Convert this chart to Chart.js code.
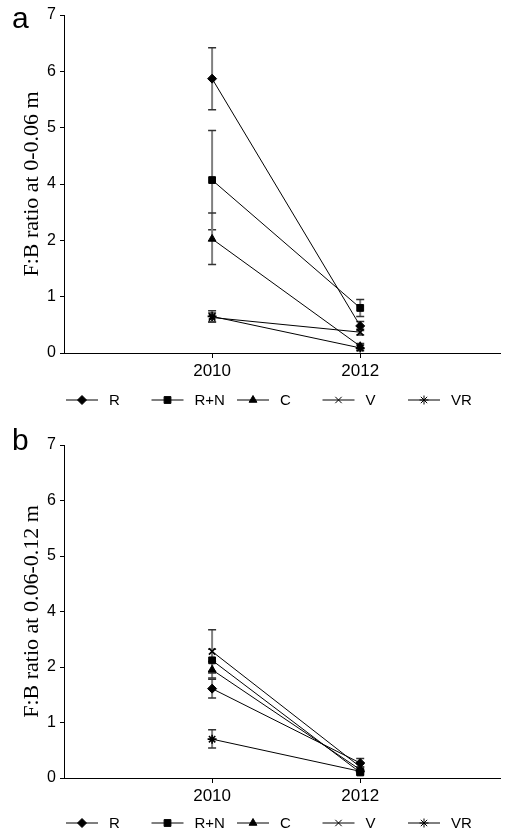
<!DOCTYPE html>
<html>
<head>
<meta charset="utf-8">
<script src="https://cdn.jsdelivr.net/npm/chart.js@4/dist/chart.umd.min.js"></script>
<style>
  html, body { margin: 0; padding: 0; background: #fff; }
  .panel { position: absolute; left: 0; width: 507px; }
  #boxA { top: 0; height: 420px; }
  #boxB { top: 420px; height: 417px; }
</style>
</head>
<body>
<div class="panel" id="boxA"><canvas id="chartA"></canvas></div>
<div class="panel" id="boxB"><canvas id="chartB"></canvas></div>
<script>
// categories and tick labels (the source axis skips "3")
const years = [2010, 2012];
const yTicks = [0, 1, 2, 4, 5, 6, 7];
const seriesNames = ["R", "R+N", "C", "V", "VR"];
const markers = ["rectRot", "rect", "triangle", "crossRot", "star"];

// panel a: F:B ratio at 0-0.06 m (mean, lower and upper end of the error bar)
const aR = [5.87, 0.48],  aR_lo = [5.32, 0.40],  aR_hi = [6.42, 0.56];
const aRN = [4.07, 0.80], aRN_lo = [2.38, 0.65], aRN_hi = [4.95, 0.95];
const aC = [2.05, 0.12],  aC_lo = [1.57, 0.07],  aC_hi = [2.97, 0.17];
const aV = [0.63, 0.37],  aV_lo = [0.55, 0.32],  aV_hi = [0.71, 0.42];
const aVR = [0.65, 0.09], aVR_lo = [0.55, 0.04], aVR_hi = [0.75, 0.14];

// panel b: F:B ratio at 0.06-0.12 m
const bR = [1.61, 0.27],  bR_lo = [1.44, 0.20],  bR_hi = [1.78, 0.35];
const bRN = [2.24, 0.10], bRN_lo = [1.92, 0.06], bRN_hi = [2.64, 0.14];
const bC = [1.95, 0.15],  bC_lo = [1.80, 0.10],  bC_hi = [2.20, 0.20];
const bV = [2.56, 0.20],  bV_lo = [1.89, 0.14],  bV_hi = [3.34, 0.26];
const bVR = [0.70, 0.12], bVR_lo = [0.54, 0.08], bVR_hi = [0.87, 0.16];

// tick labels are evenly spaced, so place values between neighbouring labels
function toAxis(v) {
  for (let i = 1; i < yTicks.length; i++) {
    if (v <= yTicks[i]) return i - 1 + (v - yTicks[i - 1]) / (yTicks[i] - yTicks[i - 1]);
  }
  return yTicks.length - 1;
}

const FONT = "'Liberation Sans', Arial, sans-serif";
const SERIF = "'Liberation Serif', 'Times New Roman', serif";

function buildDatasets(means, los, his) {
  return means.map((m, i) => ({
    label: seriesNames[i],
    data: years.map((yr, j) => ({ x: yr, y: toAxis(m[j]), lo: toAxis(los[i][j]), hi: toAxis(his[i][j]) })),
    borderColor: "#000",
    borderWidth: 1,
    pointStyle: markers[i],
    pointRadius: markers[i] === "rect" ? 4.8 : 4.5,
    pointBackgroundColor: "#000",
    pointBorderColor: "#000",
    pointBorderWidth: markers[i] === "crossRot" || markers[i] === "star" ? 1.6 : 1,
    tension: 0,
  }));
}

const errorBars = {
  id: "errorBars",
  beforeDatasetsDraw(chart) {
    const ctx = chart.ctx;
    const y = chart.scales.y, x = chart.scales.x;
    ctx.save();
    chart.data.datasets.forEach((ds) => {
      ds.data.forEach((p) => {
        const px = x.getPixelForValue(p.x);
        const top = y.getPixelForValue(p.hi), bot = y.getPixelForValue(p.lo);
        ctx.strokeStyle = "#808080";
        ctx.lineWidth = 2;
        ctx.beginPath(); ctx.moveTo(px, top); ctx.lineTo(px, bot); ctx.stroke();
        ctx.strokeStyle = "#333";
        ctx.lineWidth = 1.5;
        ctx.beginPath();
        ctx.moveTo(px - 4, top); ctx.lineTo(px + 4, top);
        ctx.moveTo(px - 4, bot); ctx.lineTo(px + 4, bot);
        ctx.stroke();
      });
    });
    ctx.restore();
  },
};

const decorations = {
  id: "decorations",
  afterDraw(chart, args, opts) {
    const ctx = chart.ctx, area = chart.chartArea;
    ctx.save();
    ctx.fillStyle = "#000";
    // panel letter
    ctx.font = "30px " + FONT;
    ctx.textAlign = "left";
    ctx.textBaseline = "alphabetic";
    ctx.fillText(opts.letter, 12, opts.letterY);
    // y title
    ctx.font = "22px " + SERIF;
    ctx.textAlign = "center";
    ctx.textBaseline = "middle";
    ctx.translate(32, (area.top + area.bottom) / 2);
    ctx.rotate(-Math.PI / 2);
    ctx.fillText(opts.title, 0, 0);
    ctx.setTransform(1, 0, 0, 1, 0, 0);
    // legend: line with marker, then label
    const ly = area.bottom + opts.legendGap;
    const step = 85.5, first = 82;
    chart.data.datasets.forEach((ds, i) => {
      const cx = first + i * step;
      ctx.strokeStyle = "#000";
      ctx.lineWidth = 1;
      ctx.beginPath(); ctx.moveTo(cx - 16, ly); ctx.lineTo(cx + 16, ly); ctx.stroke();
      Chart.helpers.drawPoint(ctx, {
        pointStyle: ds.pointStyle, radius: ds.pointRadius, borderWidth: ds.pointBorderWidth, rotation: 0,
      }, cx, ly);
      ctx.fillStyle = "#000";
      ctx.font = "15px " + FONT;
      ctx.textAlign = "left";
      ctx.fillText(ds.label, cx + 27, ly + 1);
    });
    ctx.restore();
  },
};

function makeChart(id, means, los, his, opts) {
  return new Chart(document.getElementById(id), {
    type: "line",
    data: { datasets: buildDatasets(means, los, his) },
    plugins: [errorBars, decorations],
    options: {
      responsive: true,
      maintainAspectRatio: false,
      animation: false,
      events: [],
      layout: { padding: { top: opts.top, right: 2, left: 0, bottom: 0 } },
      plugins: { legend: { display: false }, tooltip: { enabled: false }, decorations: opts },
      scales: {
        x: {
          type: "linear",
          min: 2008,
          max: 2013.9,
          afterBuildTicks: (s) => { s.ticks = years.map((v) => ({ value: v })); },
          afterFit: (s) => { s.height = opts.xHeight; },
          ticks: { color: "#000", font: { family: FONT, size: 17 }, padding: 3, callback: (v) => String(v) },
          grid: { drawOnChartArea: false, color: "#000", tickLength: 5 },
          border: { color: "#000", width: 1 },
        },
        y: {
          min: 0,
          max: yTicks.length - 1,
          afterBuildTicks: (s) => { s.ticks = yTicks.map((t, i) => ({ value: i })); },
          afterFit: (s) => { s.width = 64; },
          ticks: { color: "#000", font: { family: FONT, size: 16 }, padding: 4, callback: (v) => String(yTicks[v]) },
          grid: { drawOnChartArea: false, color: "#000", tickLength: 4 },
          border: { color: "#000", width: 1 },
        },
      },
    },
  });
}

makeChart("chartA",
  [aR, aRN, aC, aV, aVR], [aR_lo, aRN_lo, aC_lo, aV_lo, aVR_lo], [aR_hi, aRN_hi, aC_hi, aV_hi, aVR_hi],
  { letter: "a", letterY: 28, title: "F:B ratio at 0-0.06 m", top: 15, xHeight: 67, legendGap: 47 });
makeChart("chartB",
  [bR, bRN, bC, bV, bVR], [bR_lo, bRN_lo, bC_lo, bV_lo, bVR_lo], [bR_hi, bRN_hi, bC_hi, bV_hi, bVR_hi],
  { letter: "b", letterY: 30, title: "F:B ratio at 0.06-0.12 m", top: 25, xHeight: 59, legendGap: 45 });
</script>
</body>
</html>
